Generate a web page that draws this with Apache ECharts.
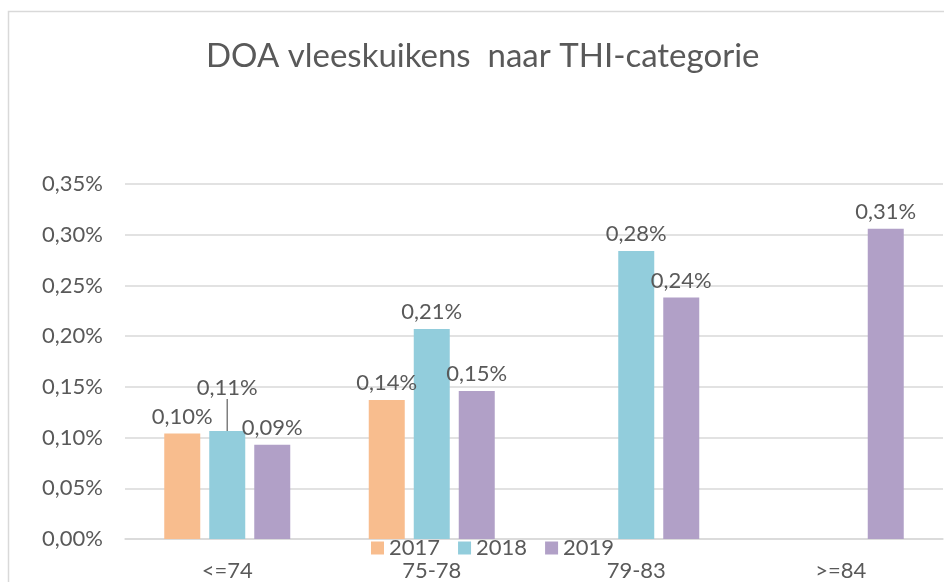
<!DOCTYPE html>
<html><head><meta charset="utf-8">
<script src="https://cdn.jsdelivr.net/npm/echarts@6/dist/echarts.min.js"></script>
<style>html,body{margin:0;padding:0;background:#fff}#c{width:944px;height:582px}</style>
</head><body><div id="c"></div>
<script>
const categories = ['<=74', '75-78', '79-83', '>=84'];
const years = ['2017', '2018', '2019'];
const values2017 = [0.104, 0.137, null, null];
const values2018 = [0.1065, 0.207, 0.284, null];
const values2019 = [0.093, 0.146, 0.238, 0.306];
const yTicks = [0, 0.05, 0.10, 0.15, 0.20, 0.25, 0.30, 0.35];
const colors = ['#F8BD8E', '#92CDDC', '#B1A0C7'];
const FONT = 'Lato';
const fmt = v => v.toFixed(2).replace('.', ',') + '%';

const chart = echarts.init(document.getElementById('c'));
const mk = (name, vals, i) => ({
  name, type: 'bar', barWidth: 36, barGap: '25%',
  data: vals.map((v, k) => (i === 1 && k === 0)
    ? { value: v, labelLine: { show: true, lineStyle: { color: '#7f7f7f', width: 1.5 } } }
    : v),
  itemStyle: { color: colors[i] },
  label: { show: true, position: 'top', distance: 6, fontFamily: FONT, fontSize: 22, color: '#595959',
    formatter: p => p.value == null ? '' : fmt(p.value) },
  labelLine: { show: false },
  labelLayout: p => (i === 1 && p.dataIndex === 0) ? { dy: -26 } : {}
});
chart.setOption({
  animation: false,
  title: { text: 'DOA vleeskuikens  naar THI-categorie', left: 201, top: 35,
    textStyle: { fontFamily: FONT, fontSize: 33, fontWeight: 'normal', color: '#595959' } },
  graphic: [{ type: 'rect', shape: { x: 8.5, y: 11.5, width: 1000, height: 1000 },
    style: { fill: 'none', stroke: '#d9d9d9', lineWidth: 1.5 }, silent: true }],
  legend: { data: years, bottom: 18, left: 366, itemWidth: 13, itemHeight: 13, itemGap: 18,
    icon: 'rect', textStyle: { fontFamily: FONT, fontSize: 22, color: '#595959' } },
  grid: { left: 125, right: 1, top: 184, bottom: 43, containLabel: false },
  xAxis: { type: 'category', data: categories,
    axisLine: { lineStyle: { color: '#d9d9d9', width: 1.5 } }, axisTick: { show: false },
    axisLabel: { margin: 21, fontFamily: FONT, fontSize: 22, color: '#595959' } },
  yAxis: { type: 'value', min: 0, max: 0.35, interval: 0.05,
    axisLine: { show: false }, axisTick: { show: false },
    splitLine: { lineStyle: { color: '#d9d9d9', width: 1.5 } },
    axisLabel: { margin: 22, fontFamily: FONT, fontSize: 22, color: '#595959',
      formatter: v => yTicks.some(t => Math.abs(t - v) < 1e-9) ? fmt(v) : '' } },
  series: [mk(years[0], values2017, 0), mk(years[1], values2018, 1), mk(years[2], values2019, 2)]
});
</script></body></html>
